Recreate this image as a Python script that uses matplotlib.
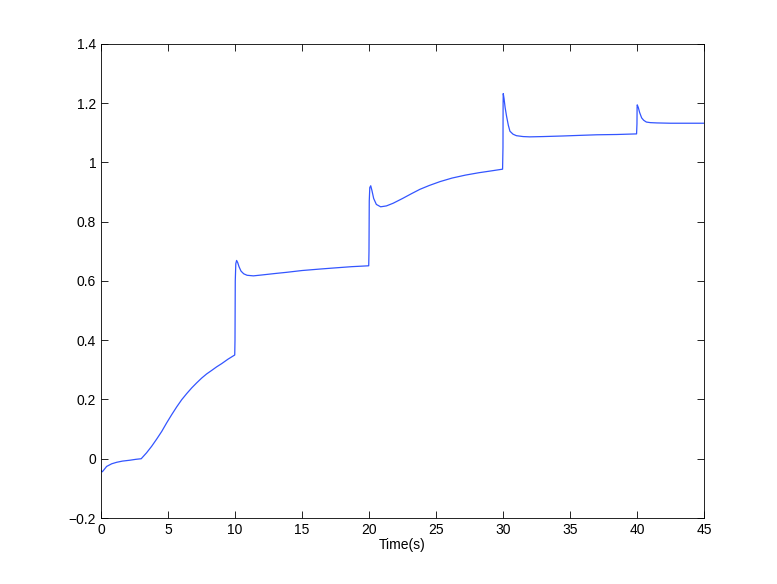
import matplotlib
matplotlib.use("Agg")
import matplotlib.pyplot as plt

# values (time in s, response)
t_seg1 = [0.0, 0.1, 0.42, 0.8, 1.17, 1.6, 2.16, 2.6, 3.0]
y_seg1 = [-0.040, -0.044, -0.026, -0.017, -0.012, -0.008, -0.005, -0.002, 0.0]

t_seg2 = [3.4, 3.78, 4.15, 4.53, 4.9, 5.28, 5.65, 6.02, 6.4, 6.77, 7.14, 7.51,
          7.88, 8.26, 8.63, 9.01, 9.48, 9.98]
y_seg2 = [0.020, 0.042, 0.066, 0.092, 0.121, 0.149, 0.175, 0.199, 0.220, 0.239, 0.256, 0.272,
          0.286, 0.298, 0.310, 0.321, 0.336, 0.350]

t_seg3 = [10.0, 10.02, 10.06, 10.12, 10.2, 10.3, 10.45, 10.65, 10.9, 11.37, 12.0,
          13.0, 13.86, 15.0, 16.34, 17.5, 18.7, 19.98]
y_seg3 = [0.40, 0.60, 0.658, 0.669, 0.662, 0.648, 0.633, 0.624, 0.619, 0.617, 0.620,
          0.625, 0.629, 0.635, 0.640, 0.644, 0.648, 0.651]

t_seg4 = [20.0, 20.02, 20.06, 20.13, 20.22, 20.35, 20.55, 20.87, 21.3, 21.8, 22.5,
          23.2, 23.8, 24.5, 25.3, 26.2, 27.2, 28.2, 29.1, 29.97]
y_seg4 = [0.70, 0.87, 0.915, 0.921, 0.905, 0.878, 0.858, 0.850, 0.853, 0.862, 0.878,
          0.895, 0.909, 0.922, 0.935, 0.947, 0.957, 0.965, 0.971, 0.977]

t_seg5 = [30.0, 30.01, 30.02, 30.08, 30.16, 30.27, 30.4, 30.52, 30.75, 31.0, 31.5,
          32.0, 33.0, 34.5, 35.7, 37.0, 38.5, 39.97]
y_seg5 = [1.05, 1.20, 1.232, 1.215, 1.185, 1.155, 1.125, 1.105, 1.095, 1.090, 1.087,
          1.086, 1.087, 1.089, 1.091, 1.093, 1.094, 1.096]

t_seg6 = [40.0, 40.01, 40.02, 40.1, 40.2, 40.35, 40.5, 40.7, 41.0, 41.5, 42.5, 44.0, 45.0]
y_seg6 = [1.13, 1.185, 1.194, 1.185, 1.168, 1.150, 1.142, 1.136, 1.134, 1.133, 1.132, 1.132, 1.132]

t = t_seg1 + t_seg2 + t_seg3 + t_seg4 + t_seg5 + t_seg6
y = y_seg1 + y_seg2 + y_seg3 + y_seg4 + y_seg5 + y_seg6

plt.rcParams['font.family'] = ['Liberation Sans', 'DejaVu Sans']

fig = plt.figure(figsize=(7.77, 5.84), dpi=100)
ax = fig.add_axes([0.13, 0.113, 0.776, 0.812])
ax.plot(t, y, color='#3355ff', linewidth=0.9)

ax.set_xlim(0, 45)
ax.set_ylim(-0.2, 1.4)
ax.set_xticks(range(0, 46, 5))
ax.set_yticks([-0.2, 0, 0.2, 0.4, 0.6, 0.8, 1, 1.2, 1.4])
ax.set_yticklabels(['\u22120.2', '0', '0.2', '0.4', '0.6', '0.8', '1', '1.2', '1.4'])
ax.tick_params(direction='in', top=True, right=True, labelsize=10, length=5, width=0.6)
for s in ax.spines.values():
    s.set_linewidth(0.6)
ax.set_xlabel('Time(s)', fontsize=10, labelpad=1)

fig.savefig('out.png', dpi=100)
